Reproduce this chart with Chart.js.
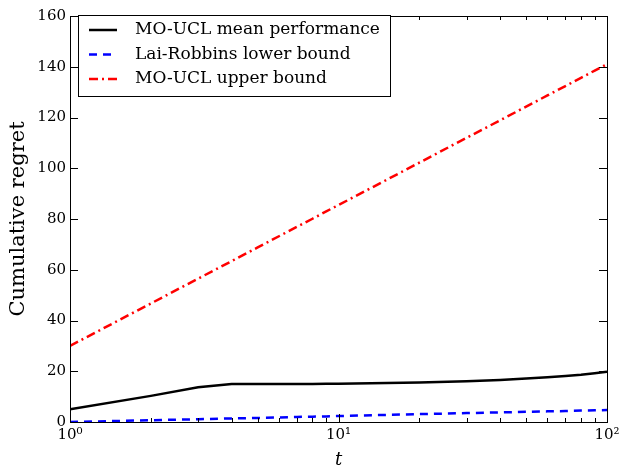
<!DOCTYPE html>
<html>
<head>
<meta charset="utf-8">
<script src="https://cdn.jsdelivr.net/npm/chart.js@4"></script>
<style>
  html, body { margin: 0; padding: 0; background: #fff; }
  #wrap { width: 638px; height: 475px; }
</style>
</head>
<body>
<div id="wrap"><canvas id="chart" width="638" height="475"></canvas></div>
<script>
// values
const tVals = [1, 2, 3, 4, 5, 6, 7, 8, 9, 10, 20, 30, 40, 50, 60, 70, 80, 90, 100];
const meanPerf = [5, 10.3, 13.7, 15, 15, 15, 15, 15, 15.1, 15.1, 15.6, 16.1, 16.6, 17.1, 17.6, 18.1, 18.6, 19.2, 19.8];
const laiRobbins = [0, 0.7, 1.1, 1.4, 1.6, 1.8, 2.0, 2.1, 2.2, 2.35, 3.1, 3.5, 3.8, 4.0, 4.2, 4.3, 4.5, 4.6, 4.7];
const upperBound = [30, 46.7, 56.5, 63.4, 68.8, 73.2, 76.9, 80.1, 83.0, 85.5, 102.2, 112.0, 118.9, 124.3, 128.7, 132.4, 135.6, 138.5, 141.0];
const xMajor = [1, 10, 100];
const xMajorLabels = ['10\u2070', '10\u00b9', '10\u00b2'];
const yTicks = [0, 20, 40, 60, 80, 100, 120, 140, 160];

const SERIF = '"DejaVu Serif", serif';

function pts(arr) {
    return tVals.map((t, i) => ({ x: t, y: arr[i] }));
}

// frame, inward ticks and legend box, like the old matplotlib look
const framePlugin = {
    id: 'frame',
    afterDraw(chart) {
        const ctx = chart.ctx, a = chart.chartArea;
        const xs = chart.scales.x, ys = chart.scales.y;
        ctx.save();
        ctx.strokeStyle = '#000';
        ctx.lineWidth = 1;
        // ticks
        ctx.beginPath();
        for (let d = 1; d <= 100; d *= 10) {
            for (let k = 1; k < 10; k++) {
                const v = d * k;
                if (v > 100) break;
                const px = Math.round(xs.getPixelForValue(v)) + 0.5;
                const len = k === 1 ? 8 : 4;
                ctx.moveTo(px, a.bottom); ctx.lineTo(px, a.bottom - len);
                ctx.moveTo(px, a.top); ctx.lineTo(px, a.top + len);
            }
        }
        yTicks.forEach(v => {
            const py = Math.round(ys.getPixelForValue(v)) + 0.5;
            ctx.moveTo(a.left, py); ctx.lineTo(a.left + 8, py);
            ctx.moveTo(a.right, py); ctx.lineTo(a.right - 8, py);
        });
        ctx.stroke();
        ctx.strokeRect(Math.round(a.left) + 0.5, Math.round(a.top) + 0.5,
            Math.round(a.right - a.left), Math.round(a.bottom - a.top));

        // legend
        const bx = 78, by = 15, bw = 312, bh = 81;
        ctx.fillStyle = '#fff';
        ctx.fillRect(bx, by, bw, bh);
        ctx.strokeRect(bx + 0.5, by + 0.5, bw, bh);
        ctx.font = '17px ' + SERIF;
        ctx.textBaseline = 'middle';
        chart.data.datasets.forEach((ds, i) => {
            const y = by + 15 + i * 24.5;
            ctx.save();
            ctx.strokeStyle = ds.borderColor;
            ctx.lineWidth = ds.borderWidth;
            ctx.setLineDash(ds.borderDash || []);
            ctx.beginPath();
            ctx.moveTo(bx + 11, y); ctx.lineTo(bx + 39, y);
            ctx.stroke();
            ctx.restore();
            ctx.fillStyle = '#000';
            ctx.fillText(ds.label, bx + 57, y);
        });
        ctx.restore();
    }
};

new Chart(document.getElementById('chart'), {
    type: 'line',
    data: {
        datasets: [
            { label: 'MO-UCL mean performance', data: pts(meanPerf), borderColor: '#000000', borderWidth: 2.5 },
            { label: 'Lai-Robbins lower bound', data: pts(laiRobbins), borderColor: '#0000ff', borderWidth: 2.5, borderDash: [8, 6] },
            { label: 'MO-UCL upper bound', data: pts(upperBound), borderColor: '#ff0000', borderWidth: 2.5, borderDash: [9, 4, 2, 4] }
        ]
    },
    options: {
        responsive: false,
        animation: false,
        devicePixelRatio: 1,
        layout: { padding: { top: 16, right: 31, left: 0, bottom: 0 } },
        elements: { point: { radius: 0 }, line: { tension: 0, borderCapStyle: 'butt' } },
        plugins: { legend: { display: false }, tooltip: { enabled: false } },
        scales: {
            x: {
                type: 'logarithmic',
                min: 1, max: 100,
                afterBuildTicks: s => { s.ticks = xMajor.map(v => ({ value: v })); },
                afterFit: s => { s.height = 53; },
                grid: { display: false, drawTicks: false },
                border: { display: false },
                ticks: {
                    autoSkip: false, maxRotation: 0, padding: 4,
                    color: '#000', font: { family: SERIF, size: 15 },
                    callback: v => xMajorLabels[xMajor.indexOf(v)] || ''
                },
                title: { display: true, text: 't', color: '#000', padding: { top: 4 },
                         font: { family: SERIF, size: 18, style: 'italic' } }
            },
            y: {
                min: 0, max: 160,
                afterBuildTicks: s => { s.ticks = yTicks.map(v => ({ value: v })); },
                afterFit: s => { s.width = 70; },
                grid: { display: false, drawTicks: false },
                border: { display: false },
                ticks: { padding: 4, color: '#000', font: { family: SERIF, size: 15 } },
                title: { display: true, text: 'Cumulative regret', color: '#000', padding: { top: 6, bottom: 2 },
                         font: { family: SERIF, size: 21 } }
            }
        }
    },
    plugins: [framePlugin]
});
</script>
</body>
</html>
